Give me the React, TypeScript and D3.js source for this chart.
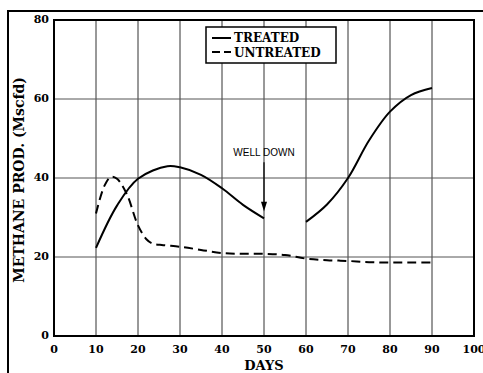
import React, { useEffect, useRef } from "react";
import * as d3 from "d3";

// treated well, before and after the well was down
const treatedBefore: [number, number][] = [
  [10, 22.3], [15, 33], [20, 39.8], [27, 43], [30, 42.7], [35, 40.8], [40, 37.4], [45, 33.2], [50, 29.8],
];
const treatedAfter: [number, number][] = [
  [60, 28.9], [65, 33.3], [70, 40], [75, 49.5], [80, 56.8], [85, 61], [90, 62.8],
];
const untreated: [number, number][] = [
  [10, 31], [12, 38], [13.6, 40.3], [15, 39.8], [17.3, 36], [20, 28], [22, 24.5], [23.5, 23.4], [26, 23], [30, 22.6], [35, 21.8],
  [40, 21], [45, 20.8], [50, 20.8], [55, 20.5], [60, 19.6], [65, 19.2], [70, 19], [75, 18.7], [80, 18.6], [85, 18.6], [90, 18.6],
];
const xTicks = [0, 10, 20, 30, 40, 50, 60, 70, 80, 90, 100];
const yTicks = [0, 20, 40, 60, 80];

const App = () => {
  const svgRef = useRef<SVGSVGElement>(null);
  const width = 483;
  const height = 373;

  useEffect(() => {
    const margin = { top: 20, right: 9, bottom: 37, left: 54 };
    const innerWidth = width - margin.left - margin.right;
    const innerHeight = height - margin.top - margin.bottom;

    const svg = d3.select(svgRef.current);
    svg.selectAll("*").remove();

    // outer frame
    svg.append("rect")
      .attr("x", 8).attr("y", 11)
      .attr("width", 500).attr("height", 400)
      .attr("fill", "none").attr("stroke", "#000").attr("stroke-width", 2);

    const x = d3.scaleLinear().domain([0, 100]).range([0, innerWidth]);
    const y = d3.scaleLinear().domain([0, 80]).range([innerHeight, 0]);

    const g = svg.append("g").attr("transform", `translate(${margin.left},${margin.top})`);
    const serif = "'DejaVu Serif', 'Liberation Serif', serif";

    // grid
    g.append("g").selectAll("line").data(xTicks.slice(1, -1)).enter().append("line")
      .attr("x1", (d) => x(d)).attr("x2", (d) => x(d))
      .attr("y1", 0).attr("y2", innerHeight)
      .attr("stroke", "#333").attr("stroke-width", 1);
    g.append("g").selectAll("line").data(yTicks.slice(1, -1)).enter().append("line")
      .attr("y1", (d) => y(d)).attr("y2", (d) => y(d))
      .attr("x1", 0).attr("x2", innerWidth)
      .attr("stroke", "#555").attr("stroke-width", 1);

    // plot frame
    g.append("rect")
      .attr("width", innerWidth).attr("height", innerHeight)
      .attr("fill", "none").attr("stroke", "#000").attr("stroke-width", 2);

    // tick labels
    g.append("g").selectAll("text").data(xTicks).enter().append("text")
      .attr("x", (d) => x(d)).attr("y", innerHeight + 17)
      .attr("text-anchor", "middle")
      .attr("font-family", serif).attr("font-weight", "bold").attr("font-size", 11)
      .text((d) => d);
    g.append("g").selectAll("text").data(yTicks).enter().append("text")
      .attr("x", -5).attr("y", (d) => y(d) + 3)
      .attr("text-anchor", "end")
      .attr("font-family", serif).attr("font-weight", "bold").attr("font-size", 11)
      .text((d) => d);

    // axis titles
    g.append("text")
      .attr("x", innerWidth / 2).attr("y", innerHeight + 34)
      .attr("text-anchor", "middle")
      .attr("font-family", serif).attr("font-weight", "bold").attr("font-size", 13)
      .text("DAYS");
    g.append("text")
      .attr("transform", `translate(-30,${innerHeight / 2 + 2}) rotate(-90)`)
      .attr("text-anchor", "middle")
      .attr("font-family", serif).attr("font-weight", "bold").attr("font-size", 14)
      .text("METHANE PROD. (Mscfd)");

    const line = d3.line<[number, number]>()
      .x((d) => x(d[0]))
      .y((d) => y(d[1]))
      .curve(d3.curveCatmullRom.alpha(0.5));

    [treatedBefore, treatedAfter].forEach((seg) => {
      g.append("path").attr("d", line(seg))
        .attr("fill", "none").attr("stroke", "#000").attr("stroke-width", 2);
    });
    g.append("path").attr("d", line(untreated))
      .attr("fill", "none").attr("stroke", "#000").attr("stroke-width", 2)
      .attr("stroke-dasharray", "9,5");

    // well down annotation
    g.append("text")
      .attr("x", x(50)).attr("y", y(45.5))
      .attr("text-anchor", "middle")
      .attr("font-family", "'Liberation Sans', Arial, sans-serif").attr("font-size", 10)
      .text("WELL DOWN");
    g.append("line")
      .attr("x1", x(50)).attr("x2", x(50))
      .attr("y1", y(44)).attr("y2", y(32.5))
      .attr("stroke", "#000").attr("stroke-width", 1.2);
    g.append("path")
      .attr("d", `M${x(50) - 3},${y(34)} L${x(50) + 3},${y(34)} L${x(50)},${y(31.5)} Z`)
      .attr("fill", "#000");

    // legend
    const lg = svg.append("g").attr("transform", "translate(206,27)");
    lg.append("rect").attr("width", 130).attr("height", 36)
      .attr("fill", "#fff").attr("stroke", "#000").attr("stroke-width", 1.5);
    lg.append("line").attr("x1", 6).attr("x2", 25).attr("y1", 11).attr("y2", 11)
      .attr("stroke", "#000").attr("stroke-width", 2);
    lg.append("line").attr("x1", 6).attr("x2", 25).attr("y1", 25).attr("y2", 25)
      .attr("stroke", "#000").attr("stroke-width", 2).attr("stroke-dasharray", "8,4");
    lg.append("text").attr("x", 28).attr("y", 15)
      .attr("font-family", serif).attr("font-weight", "bold").attr("font-size", 12)
      .text("TREATED");
    lg.append("text").attr("x", 28).attr("y", 30)
      .attr("font-family", serif).attr("font-weight", "bold").attr("font-size", 12)
      .text("UNTREATED");
  }, []);

  return (
    <svg
      ref={svgRef}
      width={width}
      height={height}
      style={{ position: "absolute", left: 0, top: 0, background: "#fff" }}
    ></svg>
  );
};

export default App;
